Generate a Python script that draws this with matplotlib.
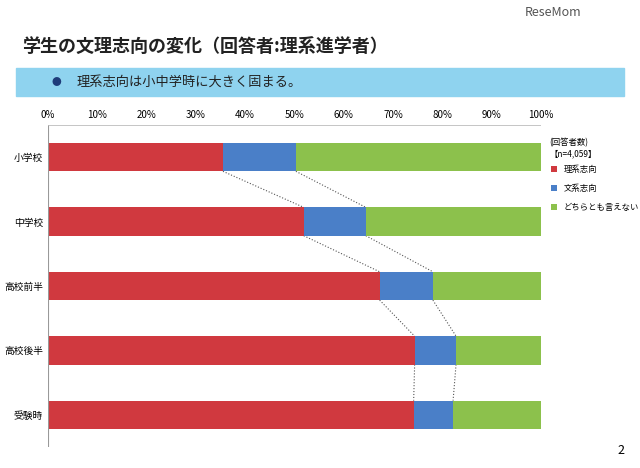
import matplotlib
matplotlib.use("Agg")
import matplotlib.pyplot as plt
from matplotlib.patches import Rectangle

plt.rcParams['font.family'] = 'Noto Sans CJK JP'

categories = ["小学校", "中学校", "高校前半", "高校後半", "受験時"]
rikei = [35.5, 51.9, 67.3, 74.4, 74.2]
bunkei = [14.8, 12.6, 10.8, 8.4, 8.0]
neither = [100 - r - b for r, b in zip(rikei, bunkei)]
series_names = ["理系志向", "文系志向", "どちらとも言えない"]
colors = ["#d0393f", "#4a7fc8", "#8cc14c"]
ticks = [0, 10, 20, 30, 40, 50, 60, 70, 80, 90, 100]

fig = plt.figure(figsize=(6.4, 4.68), dpi=100)
fig.text(0.035, 0.89, "学生の文理志向の変化（回答者:理系進学者）", fontsize=13, fontweight='bold', color='#222222')
fig.text(0.82, 0.965, "ReseMom", fontsize=9, color='#555555')
fig.text(0.975, 0.03, "2", fontsize=9, ha='right')
fig.add_artist(Rectangle((0.025, 0.795), 0.95, 0.06, transform=fig.transFigure, color='#8fd3ef', zorder=0))
fig.text(0.08, 0.825, "●", fontsize=7, color='#1f3c7a', va='center')
fig.text(0.12, 0.825, "理系志向は小中学時に大きく固まる。", fontsize=9.5, va='center', color='#222222')

ax = fig.add_axes([0.075, 0.045, 0.77, 0.688])
y = list(range(len(categories)))
h = 0.44
left = [0]*5
for vals, c, n in zip([rikei, bunkei, neither], colors, series_names):
    ax.barh(y, vals, left=left, height=h, color=c, label=n, zorder=2)
    left = [l + v for l, v in zip(left, vals)]

b1 = rikei
b2 = [r + b for r, b in zip(rikei, bunkei)]
for i in range(4):
    for b in (b1, b2):
        ax.plot([b[i], b[i+1]], [i + h/2, i+1 - h/2], ls=':', color='#555555', lw=0.8, zorder=1)

ax.set_xlim(0, 100)
ax.set_ylim(4.5, -0.5)
ax.set_yticks(y)
ax.set_yticklabels(categories, fontsize=7)
ax.set_xticks(ticks)
ax.set_xticklabels([f"{t}%" for t in ticks], fontsize=7)
ax.xaxis.tick_top()
ax.tick_params(length=0)
for s in ax.spines.values():
    s.set_visible(False)
ax.axvline(0, color='#999999', lw=0.8)
ax.axhline(-0.5, color='#bbbbbb', lw=0.6)

fig.text(0.858, 0.705, "(回答者数)\n【n=4,059】", fontsize=6, va='top')
ax.legend(loc='upper left', bbox_to_anchor=(1.005, 0.9), frameon=False, fontsize=6,
          handlelength=0.7, handleheight=0.7, labelspacing=1.2)
fig.savefig("out.png", dpi=100)
